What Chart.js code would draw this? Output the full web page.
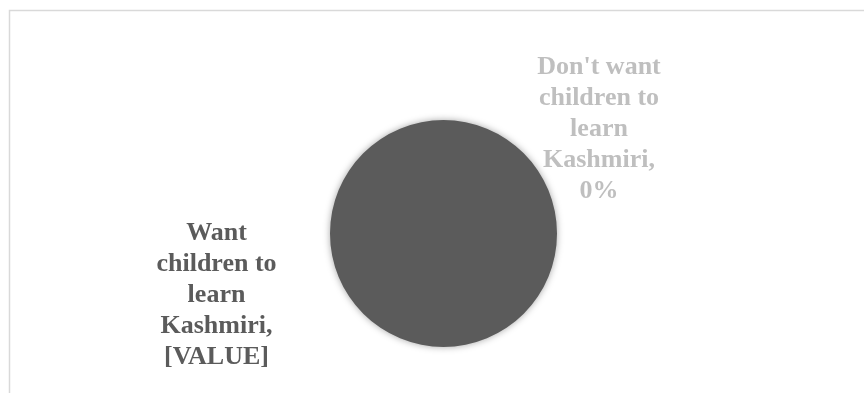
<!DOCTYPE html>
<html>
<head>
<meta charset="utf-8">
<script src="https://cdn.jsdelivr.net/npm/chart.js@4.4.1/dist/chart.umd.min.js"></script>
<style>
  html, body { margin: 0; padding: 0; background: #fff; overflow: hidden; }
  #wrap { position: relative; width: 864px; height: 393px; }
</style>
</head>
<body>
<div id="wrap"><canvas id="myChart"></canvas></div>
<script>
const categories = ["Want children to learn Kashmiri", "Don't want children to learn Kashmiri"];
const shares = [100, 0];
const labelValues = ["[VALUE]", "0%"];
const sliceColors = ["#5b5b5b", "#bfbfbf"];

// where each data label sits, in multiples of the pie radius from its centre
const labelOffsets = [
  { dx: -2.0, dy: 0.54, lines: ["Want", "children to", "learn", "Kashmiri,"] },
  { dx: 1.37, dy: -0.915, lines: ["Don't want", "children to", "learn", "Kashmiri,"] }
];

const frame = {
  id: "frame",
  beforeDraw(chart) {
    const ctx = chart.ctx;
    ctx.save();
    ctx.strokeStyle = "#d9d9d9";
    ctx.lineWidth = 1.5;
    ctx.strokeRect(9.5, 10.5, 900, 420);
    ctx.restore();
  }
};

const pieShadow = {
  id: "pieShadow",
  beforeDatasetsDraw(chart) {
    const ctx = chart.ctx;
    ctx.save();
    ctx.shadowColor = "rgba(0, 0, 0, 0.35)";
    ctx.shadowBlur = 7;
  },
  afterDatasetsDraw(chart) {
    chart.ctx.restore();
  }
};

const dataLabels = {
  id: "dataLabels",
  afterDraw(chart) {
    const ctx = chart.ctx;
    const arc = chart.getDatasetMeta(0).data[0];
    const cx = arc.x, cy = arc.y, r = arc.outerRadius;
    ctx.save();
    ctx.font = "bold 26px 'Liberation Serif', 'Times New Roman', serif";
    ctx.textAlign = "center";
    ctx.textBaseline = "middle";
    const lineH = 31;
    labelOffsets.forEach((o, i) => {
      const lines = o.lines.concat([labelValues[i]]);
      const x = cx + o.dx * r;
      const yMid = cy + o.dy * r;
      const top = yMid - (lines.length - 1) / 2 * lineH;
      ctx.fillStyle = sliceColors[i];
      lines.forEach((t, k) => ctx.fillText(t, x, top + k * lineH));
    });
    ctx.restore();
  }
};

new Chart(document.getElementById("myChart"), {
  type: "pie",
  data: {
    labels: categories,
    datasets: [{
      data: shares,
      backgroundColor: sliceColors,
      borderWidth: 0
    }]
  },
  options: {
    responsive: true,
    maintainAspectRatio: false,
    animation: false,
    layout: { padding: { top: 120, bottom: 46, left: 330, right: 307 } },
    plugins: {
      legend: { display: false },
      tooltip: { enabled: false }
    }
  },
  plugins: [frame, pieShadow, dataLabels]
});
</script>
</body>
</html>
